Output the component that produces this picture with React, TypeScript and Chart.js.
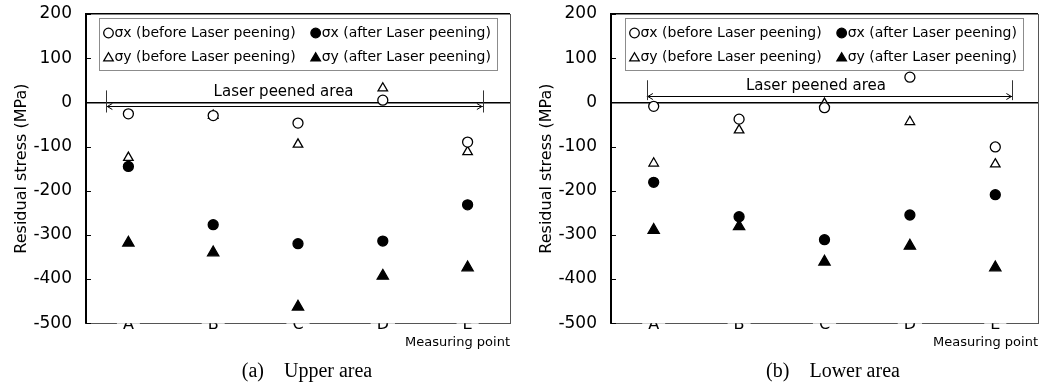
import React, { useEffect, useRef } from 'react';
import { Chart, registerables } from 'chart.js';
import { drawPoint } from 'chart.js/helpers';

Chart.register(...registerables);

// ---------- data ----------
const categories = ['A', 'B', 'C', 'D', 'E'];
const seriesLabels = [
  'σx (before Laser peening)',
  'σx (after Laser peening)',
  'σy (before Laser peening)',
  'σy (after Laser peening)',
];

// (a) Upper area
const upperSxBefore = [-26, -30, -47, 5, -90];
const upperSxAfter = [-145, -277, -320, -314, -232];
const upperSyBefore = [-125, -30, -95, 32, -112];
const upperSyAfter = [-318, -340, -463, -393, -374];

// (b) Lower area
const lowerSxBefore = [-9, -38, -12, 57, -101];
const lowerSxAfter = [-181, -259, -311, -255, -209];
const lowerSyBefore = [-138, -63, -3, -44, -140];
const lowerSyAfter = [-289, -281, -361, -325, -374];

const yMin = -500;
const yMax = 200;
const yStep = 100;

const upperCaption = '(a)\u3000Upper area';
const lowerCaption = '(b)\u3000Lower area';
const yTitle = 'Residual stress (MPa)';
const xTitle = 'Measuring point';
const peenedLabel = 'Laser peened area';

// legend layout: rows of dataset indices
const legendRows = [
  [0, 1],
  [2, 3],
];

// "Laser peened area" span, in data units (category index / MPa)
const upperSpan = { from: -0.26, to: 4.18, y: -9, tickTop: 27, tickBottom: -23, textX: 1.83, textY: 23 };
const lowerSpan = { from: -0.08, to: 4.2, y: 14, tickTop: 50, tickBottom: 5, textX: 1.9, textY: 36 };

const SANS = 'DejaVu Sans';

function makeDataset(label: string, data: number[], pointStyle: string, filled: boolean, radius: number) {
  return {
    label,
    data,
    showLine: false,
    pointStyle,
    pointRadius: radius,
    pointHoverRadius: radius,
    pointBackgroundColor: filled ? '#000' : '#fff',
    pointBorderColor: '#000',
    pointBorderWidth: 1.3,
    backgroundColor: filled ? '#000' : '#fff',
    borderColor: '#000',
    borderWidth: 1.3,
  };
}

// right frame edge + inward y tick marks
const framePlugin = {
  id: 'frameRight',
  beforeDatasetsDraw(chart: any) {
    const { ctx, chartArea } = chart;
    const ys = chart.scales.y;
    ctx.save();
    ctx.strokeStyle = '#555';
    ctx.lineWidth = 1;
    ctx.beginPath();
    const x = Math.round(chartArea.right) + 0.5;
    ctx.moveTo(x, chartArea.top);
    ctx.lineTo(x, chartArea.bottom);
    ctx.stroke();
    ctx.strokeStyle = '#000';
    ctx.beginPath();
    ys.ticks.forEach((t: any) => {
      const y = Math.round(ys.getPixelForValue(t.value)) + 0.5;
      ctx.moveTo(chartArea.left, y);
      ctx.lineTo(chartArea.left + 5, y);
    });
    ctx.stroke();
    ctx.restore();
  },
};

const boxedLegendPlugin = {
  id: 'boxedLegend',
  beforeDatasetsDraw(chart: any) {
    const { ctx, chartArea } = chart;
    const ds = chart.data.datasets;
    ctx.save();
    ctx.font = `14px "${SANS}"`;
    const markerW = 11;
    const colW = [0, 1].map(
      (c) => Math.max(...legendRows.map((row) => ctx.measureText(ds[row[c]].label).width)) + markerW
    );
    const padL = 4;
    const padR = 7;
    const colGap = 15;
    const boxW = padL + colW[0] + colGap + colW[1] + padR;
    const boxL = Math.round((chartArea.left + chartArea.right) / 2 - boxW / 2) + 0.5;
    const boxT = Math.round(chartArea.top + 4) + 0.5;
    const boxH = 52;
    ctx.fillStyle = '#fff';
    ctx.fillRect(boxL, boxT, boxW, boxH);
    ctx.strokeStyle = '#8c8c8c';
    ctx.lineWidth = 1;
    ctx.strokeRect(boxL, boxT, Math.round(boxW), boxH);
    legendRows.forEach((row, r) => {
      const cy = chartArea.top + 19 + r * 24;
      let x = boxL + padL;
      row.forEach((di, c) => {
        const d = ds[di];
        ctx.fillStyle = d.pointBackgroundColor;
        ctx.strokeStyle = d.pointBorderColor;
        ctx.lineWidth = d.pointBorderWidth;
        const tri = d.pointStyle === 'triangle';
        drawPoint(
          ctx,
          { pointStyle: d.pointStyle, radius: tri ? 5.5 : 4.8, borderWidth: d.pointBorderWidth, rotation: 0 } as any,
          x + 5,
          cy + (tri ? 1.2 : 0)
        );
        ctx.fillStyle = '#000';
        ctx.textAlign = 'left';
        ctx.textBaseline = 'middle';
        ctx.fillText(d.label, x + markerW, cy);
        x += colW[c] + colGap;
      });
    });
    ctx.restore();
  },
};

function spanPlugin(span: typeof upperSpan) {
  return {
    id: 'peenedSpan',
    afterDatasetsDraw(chart: any) {
      const { ctx } = chart;
      const xs = chart.scales.x;
      const ys = chart.scales.y;
      const x1 = xs.getPixelForValue(span.from);
      const x2 = xs.getPixelForValue(span.to);
      const y = Math.round(ys.getPixelForValue(span.y)) + 0.5;
      const t1 = ys.getPixelForValue(span.tickTop);
      const t2 = ys.getPixelForValue(span.tickBottom);
      ctx.save();
      ctx.strokeStyle = '#000';
      ctx.lineWidth = 1;
      ctx.beginPath();
      ctx.moveTo(x1, y);
      ctx.lineTo(x2, y);
      ctx.moveTo(x1 + 6, y - 3);
      ctx.lineTo(x1 + 1, y);
      ctx.lineTo(x1 + 6, y + 3);
      ctx.moveTo(x2 - 6, y - 3);
      ctx.lineTo(x2 - 1, y);
      ctx.lineTo(x2 - 6, y + 3);
      ctx.stroke();
      ctx.strokeStyle = '#333';
      ctx.beginPath();
      ctx.moveTo(Math.round(x1) + 0.5, t1);
      ctx.lineTo(Math.round(x1) + 0.5, t2);
      ctx.moveTo(Math.round(x2) + 0.5, t1);
      ctx.lineTo(Math.round(x2) + 0.5, t2);
      ctx.stroke();
      ctx.fillStyle = '#000';
      ctx.font = `15px "${SANS}"`;
      ctx.textAlign = 'center';
      ctx.textBaseline = 'middle';
      ctx.fillText(peenedLabel, xs.getPixelForValue(span.textX), ys.getPixelForValue(span.textY));
      ctx.restore();
    },
  };
}

type Props = {
  width: number;
  sxBefore: number[];
  sxAfter: number[];
  syBefore: number[];
  syAfter: number[];
  span: typeof upperSpan;
};

function StressChart({ width, sxBefore, sxAfter, syBefore, syAfter, span }: Props) {
  const ref = useRef<HTMLCanvasElement>(null);
  useEffect(() => {
    const chart = new Chart(ref.current as HTMLCanvasElement, {
      type: 'line',
      data: {
        labels: categories,
        datasets: [
          makeDataset(seriesLabels[0], sxBefore, 'circle', false, 5),
          makeDataset(seriesLabels[1], sxAfter, 'circle', true, 5),
          makeDataset(seriesLabels[2], syBefore, 'triangle', false, 5.5),
          makeDataset(seriesLabels[3], syAfter, 'triangle', true, 6.5),
        ] as any,
      },
      options: {
        animation: false,
        responsive: false,
        events: [],
        layout: { padding: { top: 14, left: 2, right: 18, bottom: 33 } },
        plugins: {
          legend: { display: false },
          title: { display: false },
          tooltip: { enabled: false },
        },
        scales: {
          x: {
            type: 'category',
            offset: true,
            grid: { display: false, drawTicks: false },
            border: { display: true, color: '#555', width: 1 },
            ticks: {
              color: '#000',
              font: { family: SANS, size: 16 },
              padding: -8,
              maxRotation: 0,
              autoSkip: false,
              showLabelBackdrop: true,
              backdropColor: '#fff',
              backdropPadding: { top: 0, bottom: 0, left: 6, right: 6 },
            } as any,
            title: {
              display: true,
              text: xTitle,
              align: 'end',
              color: '#000',
              font: { family: SANS, size: 13 },
              padding: { top: 8, bottom: 0 },
            },
          },
          y: {
            min: yMin,
            max: yMax,
            ticks: {
              stepSize: yStep,
              color: '#000',
              font: { family: SANS, size: 17 },
              padding: 0,
            },
            grid: {
              color: (c: any) =>
                c.tick && (c.tick.value === 0 || c.tick.value === yMax) ? '#000' : 'rgba(0,0,0,0)',
              lineWidth: 1.5,
              tickLength: 14,
              tickColor: 'rgba(0,0,0,0)',
            },
            border: { color: '#000', width: 2 },
            title: {
              display: true,
              text: yTitle,
              color: '#000',
              font: { family: SANS, size: 16 },
              padding: { top: 10.4, bottom: 1.8 },
            },
          },
        },
      },
      plugins: [framePlugin, boxedLegendPlugin, spanPlugin(span)],
    });
    return () => chart.destroy();
  }, []);
  return <canvas ref={ref} width={width} height={383} style={{ display: 'block' }} />;
}

const captionStyle: React.CSSProperties = {
  position: 'absolute',
  top: 358,
  width: 260,
  textAlign: 'center',
  fontFamily: '"Liberation Serif", serif',
  fontSize: 20,
  lineHeight: '24px',
  color: '#000',
  whiteSpace: 'pre',
};

export default function App() {
  return (
    <div style={{ position: 'absolute', left: 0, top: 0, width: 1056, height: 383, background: '#fff', overflow: 'hidden' }}>
      <div style={{ position: 'absolute', left: 0, top: 0 }}>
        <StressChart
          width={528}
          sxBefore={upperSxBefore}
          sxAfter={upperSxAfter}
          syBefore={upperSyBefore}
          syAfter={upperSyAfter}
          span={upperSpan}
        />
      </div>
      <div style={{ position: 'absolute', left: 525, top: 0 }}>
        <StressChart
          width={531}
          sxBefore={lowerSxBefore}
          sxAfter={lowerSxAfter}
          syBefore={lowerSyBefore}
          syAfter={lowerSyAfter}
          span={lowerSpan}
        />
      </div>
      <div style={{ ...captionStyle, left: 177 }}>{upperCaption}</div>
      <div style={{ ...captionStyle, left: 703 }}>{lowerCaption}</div>
    </div>
  );
}
